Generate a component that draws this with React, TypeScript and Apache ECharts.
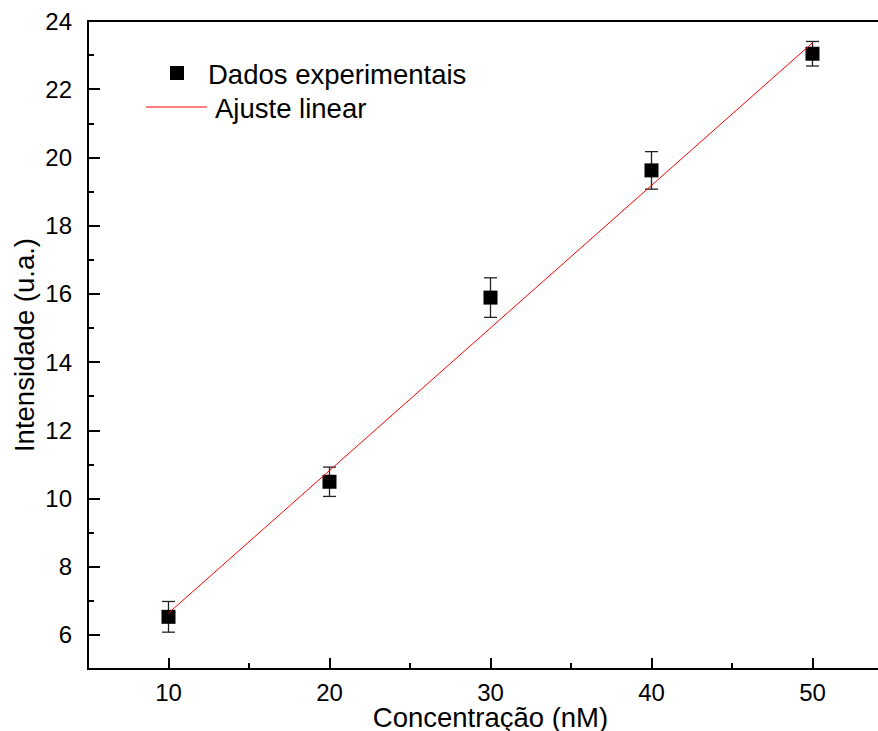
import React, { useEffect, useRef } from "react";
import * as echarts from "echarts";

// Calibration data: concentration (nM) vs. measured intensity (a.u.)
const concentrations = [10, 20, 30, 40, 50];
const intensities = [6.53, 10.49, 15.89, 19.62, 23.04];
const errors = [0.45, 0.43, 0.58, 0.55, 0.36];

// Linear fit endpoints
const fitX = [10, 50];
const fitY = [6.64, 23.36];

// Axis ticks
const xMajorTicks = [10, 20, 30, 40, 50];
const xMinorTicks = [15, 25, 35, 45];
const yMajorTicks = [6, 8, 10, 12, 14, 16, 18, 20, 22, 24];
const yMinorTicks = [7, 9, 11, 13, 15, 17, 19, 21, 23];

const FONT = "'Liberation Sans', Arial, Helvetica, sans-serif";
const TITLE_SIZE = 27.5;

export default function App() {
  const ref = useRef<HTMLDivElement>(null);

  useEffect(() => {
    if (!ref.current) return;
    const chart = echarts.init(ref.current, null, { renderer: "svg" });

    const scatterData = concentrations.map((c, i) => [c, intensities[i]]);
    const errorData = concentrations.map((c, i) => [
      c,
      intensities[i] - errors[i],
      intensities[i] + errors[i],
    ]);
    const fitData = fitX.map((x, i) => [x, fitY[i]]);

    const axisLine = { show: true, lineStyle: { color: "#000", width: 2 } };

    chart.setOption({
      animation: false,
      backgroundColor: "#fff",
      textStyle: { fontFamily: FONT },
      grid: {
        left: 88,
        top: 21,
        right: -15,
        bottom: 62,
        outerBoundsMode: "none",
        containLabel: false,
        show: true,
        borderColor: "#000",
        borderWidth: 2,
        backgroundColor: "transparent",
      },
      xAxis: [
        {
          type: "value",
          min: 5,
          max: 55,
          position: "bottom",
          name: "Concentração (nM)",
          nameLocation: "middle",
          nameGap: 36,
          nameMoveOverlap: false,
          nameTextStyle: { fontSize: TITLE_SIZE, lineHeight: 24, color: "#000", fontFamily: FONT },
          axisLine,
          splitLine: { show: false },
          axisTick: {
            show: true,
            inside: true,
            length: 11,
            customValues: xMajorTicks,
            lineStyle: { color: "#000", width: 2 },
          },
          axisLabel: {
            customValues: xMajorTicks,
            fontSize: 24,
            lineHeight: 20,
            color: "#000",
            margin: 13,
            fontFamily: FONT,
          },
        },
        {
          type: "value",
          min: 5,
          max: 55,
          position: "bottom",
          axisLine: { show: false },
          splitLine: { show: false },
          axisLabel: { show: false },
          axisTick: {
            show: true,
            inside: true,
            length: 6,
            customValues: xMinorTicks,
            lineStyle: { color: "#000", width: 2 },
          },
        },
      ],
      yAxis: [
        {
          type: "value",
          min: 5,
          max: 24,
          position: "left",
          name: "Intensidade (u.a.)",
          nameLocation: "middle",
          nameGap: 50,
          nameMoveOverlap: false,
          nameTextStyle: { fontSize: TITLE_SIZE, color: "#000", fontFamily: FONT },
          axisLine,
          splitLine: { show: false },
          axisTick: {
            show: true,
            inside: true,
            length: 12,
            customValues: yMajorTicks,
            lineStyle: { color: "#000", width: 2 },
          },
          axisLabel: {
            customValues: yMajorTicks,
            fontSize: 24,
            color: "#000",
            margin: 16,
            fontFamily: FONT,
          },
        },
        {
          type: "value",
          min: 5,
          max: 24,
          position: "left",
          axisLine: { show: false },
          splitLine: { show: false },
          axisLabel: { show: false },
          axisTick: {
            show: true,
            inside: true,
            length: 6,
            customValues: yMinorTicks,
            lineStyle: { color: "#000", width: 2 },
          },
        },
      ],
      series: [
        {
          type: "custom",
          name: "erro",
          z: 2,
          data: errorData,
          renderItem: (params: any, api: any) => {
            const x = api.value(0);
            const lo = api.coord([x, api.value(1)]);
            const hi = api.coord([x, api.value(2)]);
            const hw = 6.5;
            const style = { stroke: "#222", lineWidth: 1.3 };
            return {
              type: "group",
              children: [
                { type: "line", shape: { x1: lo[0], y1: lo[1], x2: hi[0], y2: hi[1] }, style },
                { type: "line", shape: { x1: hi[0] - hw, y1: hi[1], x2: hi[0] + hw, y2: hi[1] }, style },
                { type: "line", shape: { x1: lo[0] - hw, y1: lo[1], x2: lo[0] + hw, y2: lo[1] }, style },
              ],
            };
          },
        },
        {
          type: "scatter",
          name: "Dados experimentais",
          z: 3,
          symbol: "rect",
          symbolSize: 14,
          itemStyle: { color: "#000", opacity: 1 },
          data: scatterData,
        },
        {
          type: "line",
          name: "Ajuste linear",
          z: 4,
          showSymbol: false,
          symbol: "none",
          lineStyle: { color: "#ff0000", width: 1 },
          data: fitData,
        },
      ],
      graphic: [
        {
          type: "rect",
          shape: { x: 170, y: 66, width: 14, height: 14 },
          style: { fill: "#000" },
        },
        {
          type: "text",
          x: 208,
          y: 74,
          style: {
            text: "Dados experimentais",
            fontSize: TITLE_SIZE,
            fontFamily: FONT,
            fill: "#000",
            verticalAlign: "middle",
          },
        },
        {
          type: "line",
          shape: { x1: 146, y1: 107, x2: 207, y2: 107 },
          style: { stroke: "#ff0000", lineWidth: 1 },
        },
        {
          type: "text",
          x: 215,
          y: 108,
          style: {
            text: "Ajuste linear",
            fontSize: TITLE_SIZE,
            fontFamily: FONT,
            fill: "#000",
            verticalAlign: "middle",
          },
        },
      ],
    });

    return () => chart.dispose();
  }, []);

  return (
    <div
      ref={ref}
      style={{ position: "fixed", left: 0, top: 0, width: 878, height: 731, background: "#fff" }}
    />
  );
}
